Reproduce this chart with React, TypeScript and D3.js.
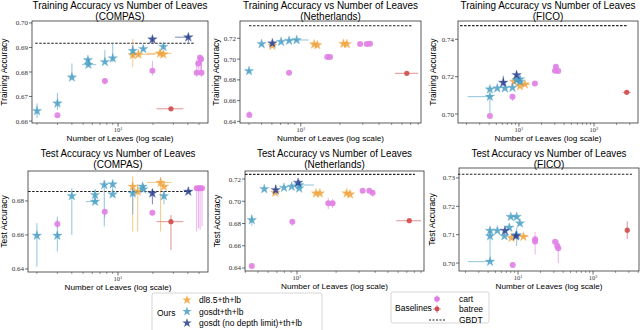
import React from 'react';
import * as d3 from 'd3';

// point: [leaves, accuracy, accLo?, accHi?, leavesLo?, leavesHi?]
type Pt = number[];

// ---- COMPAS (train)
const compasTrainDl85: Pt[] = [[13.4, 0.6869, 0.682, 0.6935], [15.0, 0.6872, 0.686, 0.689, 13.4, 21], [23.0, 0.6876, 0.686, 0.689, 17.7, 29], [24.6, 0.6872, 0.6865, 0.688]];
const compasTrainGosdt: Pt[] = [[2, 0.6641, 0.6612, 0.6672], [3, 0.6672, 0.6645, 0.6715], [4, 0.6778, 0.677, 0.6835], [5.55, 0.683, 0.6822, 0.685, 4.9, 6.5], [5.5, 0.6849, 0.684, 0.6858], [7.7, 0.6841, 0.6838, 0.689], [9.0, 0.6856, 0.6842, 0.6917], [13.4, 0.6886, 0.686, 0.691], [16.5, 0.6894, 0.6885, 0.6905], [24.6, 0.6903, 0.6895, 0.6915]];
const compasTrainDeep: Pt[] = [[19.8, 0.6933, 0.6915, 0.6945], [40.4, 0.6942, 0.692, 0.6955, 31, 40.4]];
const compasTrainCart: Pt[] = [[3, 0.6624, 0.6618, 0.6632], [7.7, 0.6763, 0.675, 0.6775], [19.8, 0.6805, 0.6785, 0.6845], [47.7, 0.6797, 0.678, 0.685], [49.2, 0.6835, 0.679, 0.687], [51, 0.6858, 0.679, 0.687], [52.5, 0.6797, 0.678, 0.686], [52, 0.6852, 0.68, 0.6865]];
const compasTrainBatree: Pt[] = [[28.6, 0.665, 0.6648, 0.6652, 21.5, 36.6]];
const compasTrainGbdt = [0.6917, 1.93, 46];

// ---- Netherlands (train)
const nethTrainDl85: Pt[] = [[6.05, 0.7129], [12.66, 0.7142], [13.4, 0.7135], [21.3, 0.7148], [22.6, 0.7145]];
const nethTrainGosdt: Pt[] = [[4.0, 0.6885, 0.6875, 0.6895], [5.0, 0.7145, 0.714, 0.715], [7.06, 0.7167, 0.716, 0.7172], [8.13, 0.7177, 0.717, 0.7183], [9.3, 0.7184, 0.7178, 0.719, 8.0, 11.5]];
const nethTrainDeep: Pt[] = [[6.05, 0.7152, 0.714, 0.716]];
const nethTrainCart: Pt[] = [[4.02, 0.646, 0.644, 0.65], [8.13, 0.6868], [16.0, 0.702], [16.8, 0.702], [28.6, 0.7145], [32.2, 0.7145], [34.1, 0.7148]];
const nethTrainBatree: Pt[] = [[65.4, 0.6863, 0.686, 0.6866, 53, 80]];
const nethTrainGbdt = [0.7321, 4.0, 73];

// ---- FICO (train)
const ficoTrainDl85: Pt[] = [[8.6, 0.7173], [10.3, 0.715], [12.0, 0.7159, 0.7155, 0.7163, 10, 14]];
const ficoTrainGosdt: Pt[] = [[4.1, 0.7093, 0.7004, 0.71, 2.07, 4.1], [4.1, 0.7132], [5.14, 0.7138], [6.5, 0.7138], [8.2, 0.7141], [9.3, 0.7182, 0.718, 0.7186, 8.0, 9.3], [10.3, 0.7186], [10.3, 0.7173]];
const ficoTrainDeep: Pt[] = [[6.18, 0.7168, 0.715, 0.7205], [9.3, 0.7209, 0.7195, 0.7222]];
const ficoTrainCart: Pt[] = [[4.1, 0.6989], [8.2, 0.7093, 0.707, 0.71], [16.3, 0.7164], [31.1, 0.7253], [30.2, 0.7232], [33.4, 0.723]];
const ficoTrainBatree: Pt[] = [[273, 0.7116, 0.711, 0.7122, 240, 310]];
const ficoTrainGbdt = [0.7473, 1.64, 284];

// ---- COMPAS (test)
const compasTestDl85: Pt[] = [[13.4, 0.6884, 0.662, 0.6945], [14.8, 0.6855, 0.662, 0.69], [23.3, 0.6908, 0.662, 0.694, 17.7, 29], [24.9, 0.6884]];
const compasTestGosdt: Pt[] = [[2, 0.6596, 0.6414, 0.6669], [3, 0.6596, 0.6502, 0.6708], [4, 0.6829, 0.66, 0.6875], [6.34, 0.6796, 0.678, 0.681, 5.3, 6.7], [6.34, 0.6835, 0.68, 0.687], [7.62, 0.6894, 0.665, 0.692], [9.0, 0.6898, 0.685, 0.691], [9.0, 0.6839], [13.4, 0.6845, 0.672, 0.688], [16.3, 0.6884], [16.5, 0.6869], [24.9, 0.6829, 0.678, 0.686]];
const compasTestDeep: Pt[] = [[19.8, 0.6845, 0.678, 0.687], [40.4, 0.6855]];
const compasTestCart: Pt[] = [[3, 0.6665, 0.664, 0.669], [7.7, 0.6737, 0.67, 0.675], [19.8, 0.6731], [47.7, 0.6875, 0.662, 0.6885], [49.5, 0.6875, 0.664, 0.6885], [51, 0.6875, 0.663, 0.6885], [53, 0.6875, 0.665, 0.6885]];
const compasTestBatree: Pt[] = [[28.6, 0.6678, 0.6512, 0.6718, 21.5, 36.6]];
const compasTestGbdt = [0.6855, 1.68, 43];

// ---- Netherlands (test)
const nethTestDl85: Pt[] = [[6.8, 0.7077], [14.0, 0.7071], [15.0, 0.7071], [24.1, 0.7071], [25.6, 0.7062]];
const nethTestGosdt: Pt[] = [[4.49, 0.6831, 0.678, 0.688], [5.6, 0.711], [7.94, 0.7122], [9.1, 0.7131], [10.4, 0.7116], [10.4, 0.7146, 0.714, 0.715, 8.8, 13.5]];
const nethTestDeep: Pt[] = [[6.86, 0.7101, 0.707, 0.715], [10.2, 0.7167]];
const nethTestCart: Pt[] = [[4.49, 0.6418], [9.2, 0.6816, 0.678, 0.683], [17.4, 0.6982, 0.693, 0.703], [18.8, 0.6982, 0.694, 0.702], [32.0, 0.7095], [36.0, 0.7095], [38.2, 0.7077, 0.704, 0.71]];
const nethTestBatree: Pt[] = [[73.1, 0.6825, 0.6822, 0.6828, 58, 90]];
const nethTestGbdt = [0.7242, 3.98, 80.8];

// ---- FICO (test)
const ficoTestDl85: Pt[] = [[8.2, 0.7089], [11.8, 0.7093, 0.709, 0.7096, 10.5, 13.8]];
const ficoTestGosdt: Pt[] = [[4.24, 0.7005, 0.7005, 0.7005, 2.14, 4.24], [4.24, 0.7114, 0.7005, 0.7125], [4.24, 0.7095], [5.3, 0.7114], [7.65, 0.7125], [9.6, 0.7163, 0.716, 0.7166, 8.0, 9.6], [8.0, 0.7163], [10.6, 0.714], [6.6, 0.7095], [9.6, 0.7099, 0.706, 0.7125]];
const ficoTestDeep: Pt[] = [[6.7, 0.7114], [9.4, 0.7095]];
const ficoTestCart: Pt[] = [[8.5, 0.6993], [16.9, 0.7084, 0.703, 0.711], [16.9, 0.7076], [31.2, 0.7075], [33.4, 0.706], [34.4, 0.7052, 0.7, 0.708]];
const ficoTestBatree: Pt[] = [[286, 0.7116, 0.7085, 0.7147]];
const ficoTestGbdt = [0.7313, 1.58, 330];

const ticksA = [0.66, 0.67, 0.68, 0.69, 0.7];
const ticksB = [0.64, 0.66, 0.68, 0.7, 0.72];
const ticksC = [0.7, 0.72, 0.74];
const ticksD = [0.64, 0.66, 0.68];
const ticksE = [0.64, 0.66, 0.68, 0.7, 0.72];
const ticksF = [0.7, 0.71, 0.72, 0.73];

const C = {
  dl85: '#f0a33c',
  gosdt: '#4a9fc5',
  deep: '#263f8e',
  cart: '#e07ee4',
  batree: '#d24b4b',
};

const trainTitle = 'Training Accuracy vs Number of Leaves';
const testTitle = 'Test Accuracy vs Number of Leaves';

const panels = [
  { title: trainTitle, tw: 175, sub: '(COMPAS)', ylab: 'Training Accuracy', yl: 7, box: [32, 208, 21, 123], xDom: [1.81, 59.7], yDom: [0.6592, 0.7008], yTicks: ticksA, xMajor: [10], s: [compasTrainCart, compasTrainBatree, compasTrainDl85, compasTrainGosdt, compasTrainDeep], gbdt: compasTrainGbdt },
  { title: trainTitle, tw: 175, sub: '(Netherlands)', ylab: 'Training Accuracy', yl: 219, box: [240, 421, 21, 123], xDom: [3.41, 84.1], yDom: [0.6384, 0.7367], yTicks: ticksB, xMajor: [10], s: [nethTrainCart, nethTrainBatree, nethTrainDl85, nethTrainGosdt, nethTrainDeep], gbdt: nethTrainGbdt },
  { title: trainTitle, tw: 175, sub: '(FICO)', ylab: 'Training Accuracy', yl: 436, box: [458, 638, 21, 123], xDom: [1.54, 386], yDom: [0.6952, 0.7498], yTicks: ticksC, xMajor: [10, 100], s: [ficoTrainCart, ficoTrainBatree, ficoTrainDl85, ficoTrainGosdt, ficoTrainDeep], gbdt: ficoTrainGbdt },
  { title: testTitle, tw: 155, sub: '(COMPAS)', ylab: 'Test Accuracy', yl: 7, box: [28, 208, 171, 272], xDom: [1.676, 59.7], yDom: [0.6382, 0.6976], yTicks: ticksD, xMajor: [10], s: [compasTestCart, compasTestBatree, compasTestDl85, compasTestGosdt, compasTestDeep], gbdt: compasTestGbdt },
  { title: testTitle, tw: 155, sub: '(Netherlands)', ylab: 'Test Accuracy', yl: 220, box: [245, 424, 171, 271], xDom: [3.98, 94.9], yDom: [0.6373, 0.7272], yTicks: ticksE, xMajor: [10], s: [nethTestCart, nethTestBatree, nethTestDl85, nethTestGosdt, nethTestDeep], gbdt: nethTestGbdt },
  { title: testTitle, tw: 155, sub: '(FICO)', ylab: 'Test Accuracy', yl: 435, box: [459, 639, 168, 271], xDom: [1.635, 410], yDom: [0.6972, 0.7335], yTicks: ticksF, xMajor: [10, 100], s: [ficoTestCart, ficoTestBatree, ficoTestDl85, ficoTestGosdt, ficoTestDeep], gbdt: ficoTestGbdt },
];

const kinds = ['cart', 'batree', 'dl85', 'gosdt', 'deep'] as const;
const starPath = d3.symbol().type(d3.symbolStar).size(28)() as string;
const sans = 'Liberation Sans, Arial, sans-serif';
const serif = 'Liberation Serif, DejaVu Serif, serif';

function minorTicks(dom: number[]) {
  const out: number[] = [];
  for (let k = -1; k < 4; k++) {
    for (let m = 2; m < 10; m++) {
      const v = m * Math.pow(10, k);
      if (v >= dom[0] && v <= dom[1]) out.push(v);
    }
  }
  return out;
}

function Panel({ p }: { p: (typeof panels)[number] }) {
  const [l, r, t, b] = p.box;
  const x = d3.scaleLog().domain(p.xDom).range([l, r]);
  const y = d3.scaleLinear().domain(p.yDom).range([b, t]);
  const cx = (l + r) / 2;
  const tTop = t < 100 ? 9 : 157;
  return (
    <g>
      <text x={cx} y={tTop} textAnchor="middle" fontSize={10} fontFamily={sans} textLength={p.tw} lengthAdjust="spacingAndGlyphs">{p.title}</text>
      <text x={cx} y={tTop + 11} textAnchor="middle" fontSize={10} fontFamily={sans}>{p.sub}</text>
      <text transform={`translate(${p.yl},${(t + b) / 2}) rotate(-90)`} textAnchor="middle" fontSize={8.5} fontFamily={sans}>{p.ylab}</text>
      <text x={cx} y={b + 18} textAnchor="middle" fontSize={8} fontFamily={sans} textLength={107} lengthAdjust="spacingAndGlyphs">Number of Leaves (log scale)</text>
      {/* frame */}
      <rect x={l} y={t} width={r - l} height={b - t} fill="none" stroke="#333" strokeWidth={0.8} />
      {/* y ticks */}
      {p.yTicks.map((v) => (
        <g key={v}>
          <line x1={l - 3} x2={l} y1={y(v)} y2={y(v)} stroke="#333" strokeWidth={0.7} />
          <text x={l - 4} y={y(v) + 2.5} textAnchor="end" fontSize={7} fontFamily={serif} fill="#333">{d3.format('.2f')(v)}</text>
        </g>
      ))}
      {/* x ticks */}
      {minorTicks(p.xDom).map((v) => (
        <line key={v} x1={x(v)} x2={x(v)} y1={b} y2={b + 2} stroke="#333" strokeWidth={0.5} />
      ))}
      {p.xMajor.map((v) => (
        <g key={v}>
          <line x1={x(v)} x2={x(v)} y1={b} y2={b + 3.5} stroke="#333" strokeWidth={0.7} />
          <text x={x(v)} y={b + 9} textAnchor="middle" fontSize={6.5} fontFamily={serif} fill="#333">
            10<tspan fontSize={4.5} dy={-2.5}>{Math.round(Math.log10(v))}</tspan>
          </text>
        </g>
      ))}
      {/* GBDT */}
      <line x1={x(p.gbdt[1])} x2={x(p.gbdt[2])} y1={y(p.gbdt[0])} y2={y(p.gbdt[0])} stroke="#222" strokeWidth={1.1} strokeDasharray="2.5,1.5" />
      {/* error bars */}
      {p.s.map((pts, si) => {
        const col = C[kinds[si]];
        return pts.map((d, i) => (
          <g key={`e${si}-${i}`} stroke={col} strokeWidth={1} opacity={0.6}>
            {d.length > 2 && <line x1={x(d[0])} x2={x(d[0])} y1={y(d[2])} y2={y(d[3])} />}
            {d.length > 4 && <line x1={x(d[4])} x2={x(d[5])} y1={y(d[1])} y2={y(d[1])} />}
          </g>
        ));
      })}
      {/* markers */}
      {p.s.map((pts, si) => {
        const kind = kinds[si];
        const col = C[kind];
        return pts.map((d, i) =>
          kind === 'cart' || kind === 'batree' ? (
            <circle key={`m${si}-${i}`} cx={x(d[0])} cy={y(d[1])} r={kind === 'cart' ? 3 : 2.6} fill={col} opacity={0.9} />
          ) : (
            <path key={`m${si}-${i}`} d={starPath} transform={`translate(${x(d[0])},${y(d[1])})`} fill={col} stroke={col} strokeOpacity={0.5} strokeWidth={0.6} opacity={0.85} />
          )
        );
      })}
    </g>
  );
}

function Legend() {
  const ours = [
    ['dl8.5+th+lb', C.dl85],
    ['gosdt+th+lb', C.gosdt],
    ['gosdt (no depth limit)+th+lb', C.deep],
  ];
  return (
    <g fontFamily={sans} fontSize={8.5}>
      <rect x={152} y={293} width={170} height={40} rx={2} fill="#fff" stroke="#ccc" strokeWidth={0.8} />
      <text x={157} y={316}>Ours</text>
      {ours.map(([lab, col], i) => (
        <g key={lab}>
          <path d={starPath} transform={`translate(187,${300 + i * 11.5})`} fill={col} opacity={0.85} />
          <text x={199} y={303 + i * 11.5}>{lab}</text>
        </g>
      ))}
      <rect x={391} y={292} width={98} height={31} rx={2} fill="#fff" stroke="#ccc" strokeWidth={0.8} />
      <text x={395} y={311}>Baselines</text>
      <line x1={437} x2={437} y1={295} y2={303} stroke={C.cart} strokeWidth={1} opacity={0.6} />
      <circle cx={437} cy={299} r={2.8} fill={C.cart} />
      <text x={459} y={302}>cart</text>
      <line x1={433} x2={441} y1={309} y2={309} stroke={C.batree} strokeWidth={1} opacity={0.6} />
      <line x1={437} x2={437} y1={305} y2={313} stroke={C.batree} strokeWidth={1} opacity={0.6} />
      <circle cx={437} cy={309} r={2.4} fill={C.batree} />
      <text x={459} y={312}>batree</text>
      <line x1={429} x2={445} y1={320} y2={320} stroke="#222" strokeWidth={1} strokeDasharray="2,1.5" />
      <text x={459} y={323}>GBDT</text>
    </g>
  );
}

export default function App() {
  return (
    <svg width={640} height={330} style={{ position: 'absolute', left: 0, top: 0, background: '#fff' }}>
      {panels.map((p, i) => (
        <Panel key={i} p={p} />
      ))}
      <Legend />
    </svg>
  );
}
